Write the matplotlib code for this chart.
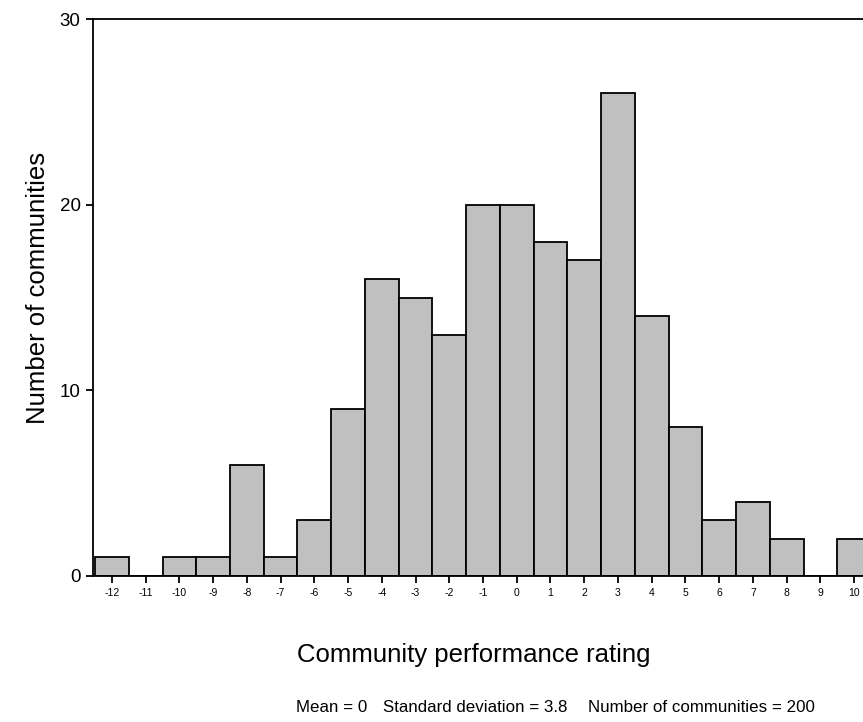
import matplotlib.pyplot as plt
import numpy as np

plt.rcParams["font.family"] = ["Liberation Sans", "DejaVu Sans"]

W, H = 863, 722

ratings = list(range(-12, 11))
counts = [1, 0, 1, 1, 6, 1, 3, 9, 16, 15, 13, 20, 20, 18, 17, 26, 14, 8, 3, 4, 2, 0, 2]
y_ticks = [0, 10, 20, 30]
footer = ["Mean = 0", "Standard deviation = 3.8", "Number of communities = 200"]
footer_x = [296, 383, 588]

fig = plt.figure(figsize=(W / 100, H / 100), dpi=100)

# axes run off the right edge, like the original export
left, right, top, bottom = 93, 871, 19, 576
ax = fig.add_axes([left / W, 1 - bottom / H, (right - left) / W, (bottom - top) / H])

ax.bar(ratings, counts, width=1.0, color="#c0c0c0", edgecolor="black", linewidth=1.3)

ax.set_xlim(-12.56, 10.5)
ax.set_ylim(0, 30)
ax.set_xticks(ratings)
ax.set_xticklabels([str(r) for r in ratings], fontsize=7.5)
ax.set_yticks(y_ticks)
ax.set_yticklabels([str(t) for t in y_ticks], fontsize=13.5)
ax.tick_params(axis="x", length=5, width=1.3, pad=4)
ax.tick_params(axis="y", length=5, width=1.3, pad=4)

ax.spines["right"].set_visible(False)
for s in ["left", "top", "bottom"]:
    ax.spines[s].set_linewidth(1.3)

fig.text(38 / W, 1 - 288 / H, "Number of communities", rotation=90,
         ha="center", va="center", fontsize=18.5)
fig.text(474 / W, 1 - 655 / H, "Community performance rating",
         ha="center", va="center", fontsize=18.5)
for txt, x in zip(footer, footer_x):
    fig.text(x / W, 1 - 707 / H, txt, ha="left", va="center", fontsize=12.2)

fig.savefig("out.png", dpi=100)
